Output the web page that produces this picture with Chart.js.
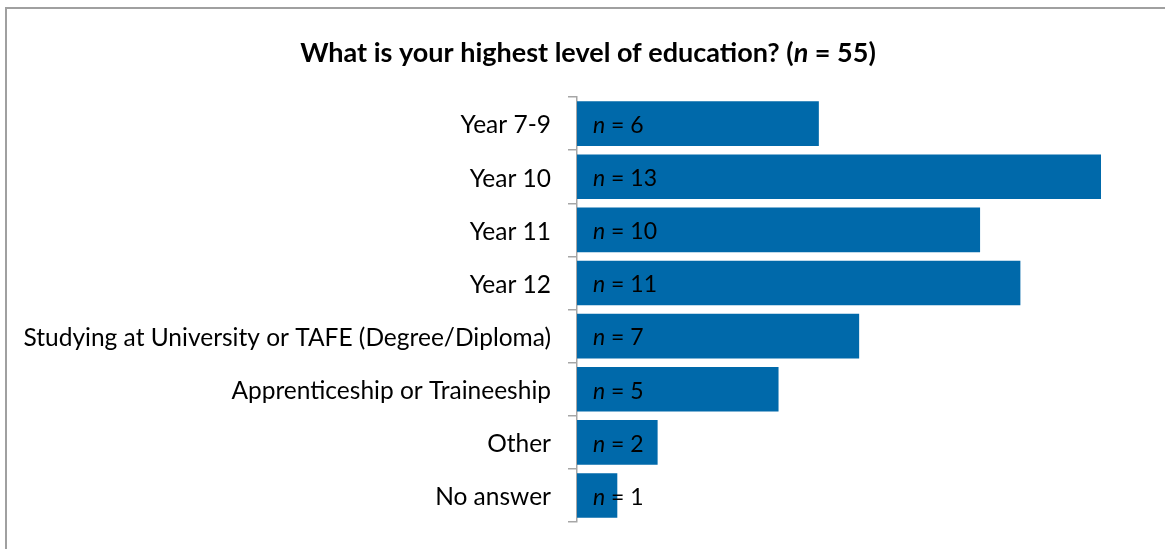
<!DOCTYPE html>
<html>
<head>
<meta charset="utf-8">
<script src="https://cdn.jsdelivr.net/npm/chart.js@4"></script>
<style>
    html, body { margin: 0; padding: 0; background: #fff; }
    #wrap { position: relative; width: 1165px; height: 549px; }
    #frame { position: absolute; left: 5px; top: 7px; width: 1170px; height: 560px; border: 2px solid #a0a0a0; box-sizing: border-box; pointer-events: none; }
    canvas { display: block; }
</style>
</head>
<body>
<div id="wrap">
    <canvas id="eduChart" width="1165" height="549"></canvas>
    <div id="frame"></div>
</div>
<script>
const categories = [
    'Year 7-9',
    'Year 10',
    'Year 11',
    'Year 12',
    'Studying at University or TAFE (Degree/Diploma)',
    'Apprenticeship or Traineeship',
    'Other',
    'No answer'
];
const counts = [6, 13, 10, 11, 7, 5, 2, 1];
const titleText = 'What is your highest level of education?';
const totalN = 55;

const FONT = 'Lato, "Open Sans", sans-serif';

// draws "prefix n = value" with an italic n
function drawNText(ctx, x, y, prefix, value, size, weight) {
    const normal = weight + ' ' + size + 'px ' + FONT;
    const italic = 'italic ' + weight + ' ' + size + 'px ' + FONT;
    ctx.font = normal;
    ctx.fillText(prefix, x, y);
    x += ctx.measureText(prefix).width;
    ctx.font = italic;
    ctx.fillText('n', x, y);
    x += ctx.measureText('n').width;
    ctx.font = normal;
    ctx.fillText(' = ' + value, x, y);
}

const textPlugin = {
    id: 'textPlugin',
    afterDatasetsDraw(chart) {
        const ctx = chart.ctx;
        ctx.save();
        ctx.fillStyle = '#000';
        ctx.textBaseline = 'middle';
        ctx.textAlign = 'left';

        // title, centred
        const size = 27;
        ctx.font = 'bold ' + size + 'px ' + FONT;
        const pre = titleText + ' (';
        let w = ctx.measureText(pre).width;
        ctx.font = 'italic bold ' + size + 'px ' + FONT;
        w += ctx.measureText('n').width;
        ctx.font = 'bold ' + size + 'px ' + FONT;
        w += ctx.measureText(' = ' + totalN + ')').width;
        drawNText(ctx, 588 - w / 2, 53, pre, totalN + ')', size, 'bold');

        // bar labels
        const meta = chart.getDatasetMeta(0);
        meta.data.forEach((bar, i) => {
            drawNText(ctx, chart.chartArea.left + 16, bar.y + 2, '', counts[i], 23, 'normal');
        });
        ctx.restore();
    }
};

document.addEventListener('DOMContentLoaded', function() {
    const ctx = document.getElementById('eduChart').getContext('2d');
    const chartConfig = {
        type: 'bar',
        data: {
            labels: categories,
            datasets: [{
                label: 'Count',
                data: counts,
                backgroundColor: '#0069aa',
                borderWidth: 0,
                categoryPercentage: 0.84,
                barPercentage: 1.0
            }]
        },
        options: {
            indexAxis: 'y',
            responsive: false,
            animation: false,
            layout: {
                padding: { top: 97, right: 64, bottom: 27, left: 0 }
            },
            plugins: {
                legend: { display: false },
                title: { display: false },
                tooltip: { enabled: false }
            },
            scales: {
                x: {
                    display: false,
                    min: 0,
                    max: 13
                },
                y: {
                    afterFit: function(scale) {
                        scale.width = 577;
                        scale.paddingTop = 0;
                        scale.paddingBottom = 0;
                    },
                    grid: {
                        offset: true,
                        drawOnChartArea: false,
                        drawTicks: true,
                        tickLength: 9,
                        color: '#a6a6a6',
                        lineWidth: 1.5
                    },
                    border: {
                        color: '#a6a6a6',
                        width: 1.5
                    },
                    ticks: {
                        color: '#000',
                        padding: 17,
                        labelOffset: 2,
                        font: { family: FONT, size: 24.5 }
                    }
                }
            }
        },
        plugins: [textPlugin]
    };

    const eduChart = new Chart(ctx, chartConfig);
});
</script>
</body>
</html>
